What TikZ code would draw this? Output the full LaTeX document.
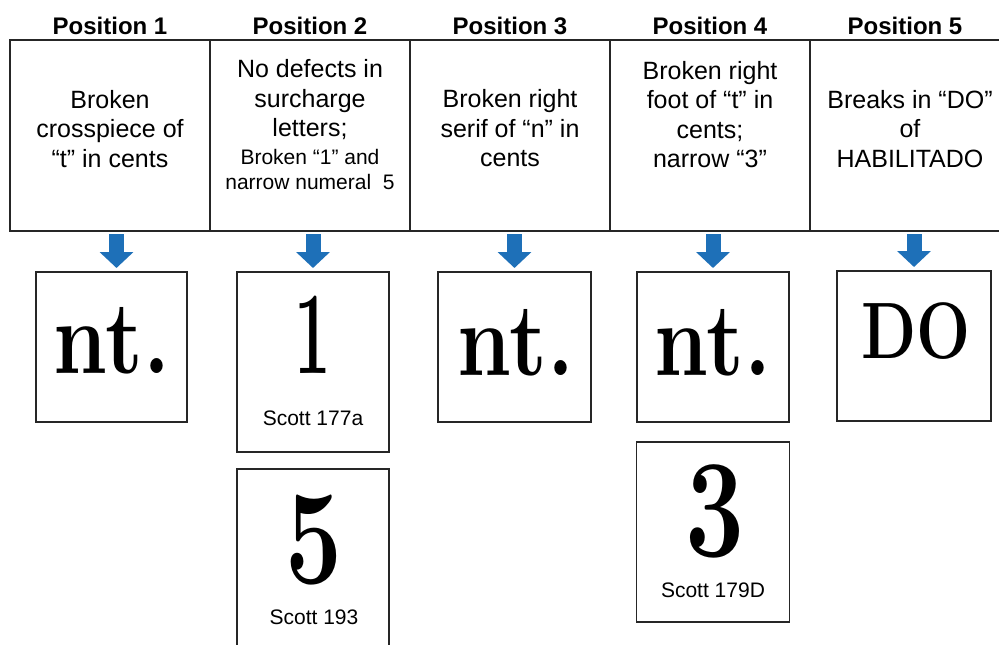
\documentclass[tikz,border=0pt]{standalone}
\usepackage{fontspec}
\setsansfont{Liberation Sans}
\usetikzlibrary{positioning,arrows.meta}

\definecolor{flechebleue}{RGB}{30,112,184}

\tikzset{
  colonne/.style={draw=black!85, line width=1.3pt, minimum height=191pt, inner sep=0pt, outer sep=0pt},
  titre/.style={font=\sffamily\bfseries\fontsize{24}{24}\selectfont, inner sep=0pt},
  texte/.style={font=\sffamily\fontsize{25}{29.5}\selectfont, align=center, inner sep=0pt},
  petit/.style={font=\sffamily\fontsize{21}{25}\selectfont, align=center, inner sep=0pt},
  cadre/.style={draw=black!85, line width=1.3pt, inner sep=0pt, outer sep=0pt},
  glyphe/.style={font=\bfseries\fontsize{#1}{#1}\selectfont, inner sep=0pt, anchor=base},
  scott/.style={font=\sffamily\fontsize{21}{24}\selectfont, inner sep=0pt},
  fleche/.style={draw=flechebleue, line width=15pt, -{Triangle[width=33pt,length=16pt]}, shorten <=3pt, shorten >=4pt}
}

\begin{document}
\begin{tikzpicture}[x=1pt, y=-1pt]
		\clip (0,0) rectangle (999,645);

		% colonnes de l'en-tete
		\node[colonne, minimum width=200pt] (col1) at (110,135.5) {};
		\node[colonne, minimum width=200pt, right=0pt of col1] (col2) {};
		\node[colonne, minimum width=200pt, right=0pt of col2] (col3) {};
		\node[colonne, minimum width=200pt, right=0pt of col3] (col4) {};
		\node[colonne, minimum width=190pt, right=0pt of col4] (col5) {};

		% titres
		\node[titre, above=5pt of col1] (t1) {Position 1};
		\node[titre, above=5pt of col2] (t2) {Position 2};
		\node[titre, above=5pt of col3] (t3) {Position 3};
		\node[titre, above=5pt of col4] (t4) {Position 4};
		\node[titre, above=5pt of col5] (t5) {Position 5};

		% descriptions
		\node[texte, yshift=6.5pt] (d1) at (col1.center) {Broken\\crosspiece of\\“t” in cents};
		\node[texte, yshift=35.5pt] (d2) at (col2.center) {No defects in\\surcharge\\letters;};
		\node[petit, yshift=-34pt] (d2b) at (col2.center) {Broken “1” and\\narrow numeral\ \ 5};
		\node[texte, yshift=7pt] (d3) at (col3.center) {Broken right\\serif of “n” in\\cents};
		\node[texte, yshift=21pt] (d4) at (col4.center) {Broken right\\foot of “t” in\\cents;\\narrow “3”};
		\node[texte, yshift=6.5pt, xshift=5pt] (d5) at (col5.center) {Breaks in “DO”\\of\\HABILITADO};

		% cadres des images
		\node[cadre, minimum width=151pt, minimum height=150pt] (img1) at (111.5,347) {};
		\node[cadre, minimum width=152pt, minimum height=180pt] (img2) at (313,362) {};
		\node[cadre, minimum width=152pt, minimum height=192pt, below=17pt of img2] (img2b) {};
		\node[cadre, minimum width=153pt, minimum height=150pt] (img3) at (514.5,347) {};
		\node[cadre, minimum width=152pt, minimum height=150pt] (img4) at (713,347) {};
		\node[cadre, minimum width=153pt, minimum height=180pt, below=20pt of img4] (img4b) {};
		\node[cadre, minimum width=154pt, minimum height=150pt] (img5) at (914,346) {};

		% fleches bleues
		\coordinate (a1) at ([xshift=5pt]img1.north);
		\draw[fleche] (a1 |- col1.south) -- (a1);
		\foreach \i in {2,3,4,5}
			\draw[fleche] (img\i.north |- col\i.south) -- (img\i.north);

		% lettres
		\node[glyphe=104] (g1) at (112,373) {\scalebox{0.83}[1]{nt.}};
		\node[glyphe=118] (g2) at (313,373) {\scalebox{0.55}[1]{1}};
		\node[glyphe=135] (g2b) at (314,583) {\scalebox{0.75}[1]{5}};
		\node[glyphe=104] (g3) at (516,375) {\scalebox{0.83}[1]{nt.}};
		\node[glyphe=104] (g4) at (713,375) {\scalebox{0.83}[1]{nt.}};
		\node[glyphe=140] (g4b) at (715,556) {\scalebox{0.75}[1]{3}};
		\node[glyphe=80] (g5) at (916,358) {\scalebox{0.8}[1]{DO}};

		% numeros scott
		\node[scott] (s2) at (313,418) {Scott 177a};
		\node[scott] (s2b) at (314,617) {Scott 193};
		\node[scott] (s4b) at (713,590) {Scott 179D};

\end{tikzpicture}
\end{document}
